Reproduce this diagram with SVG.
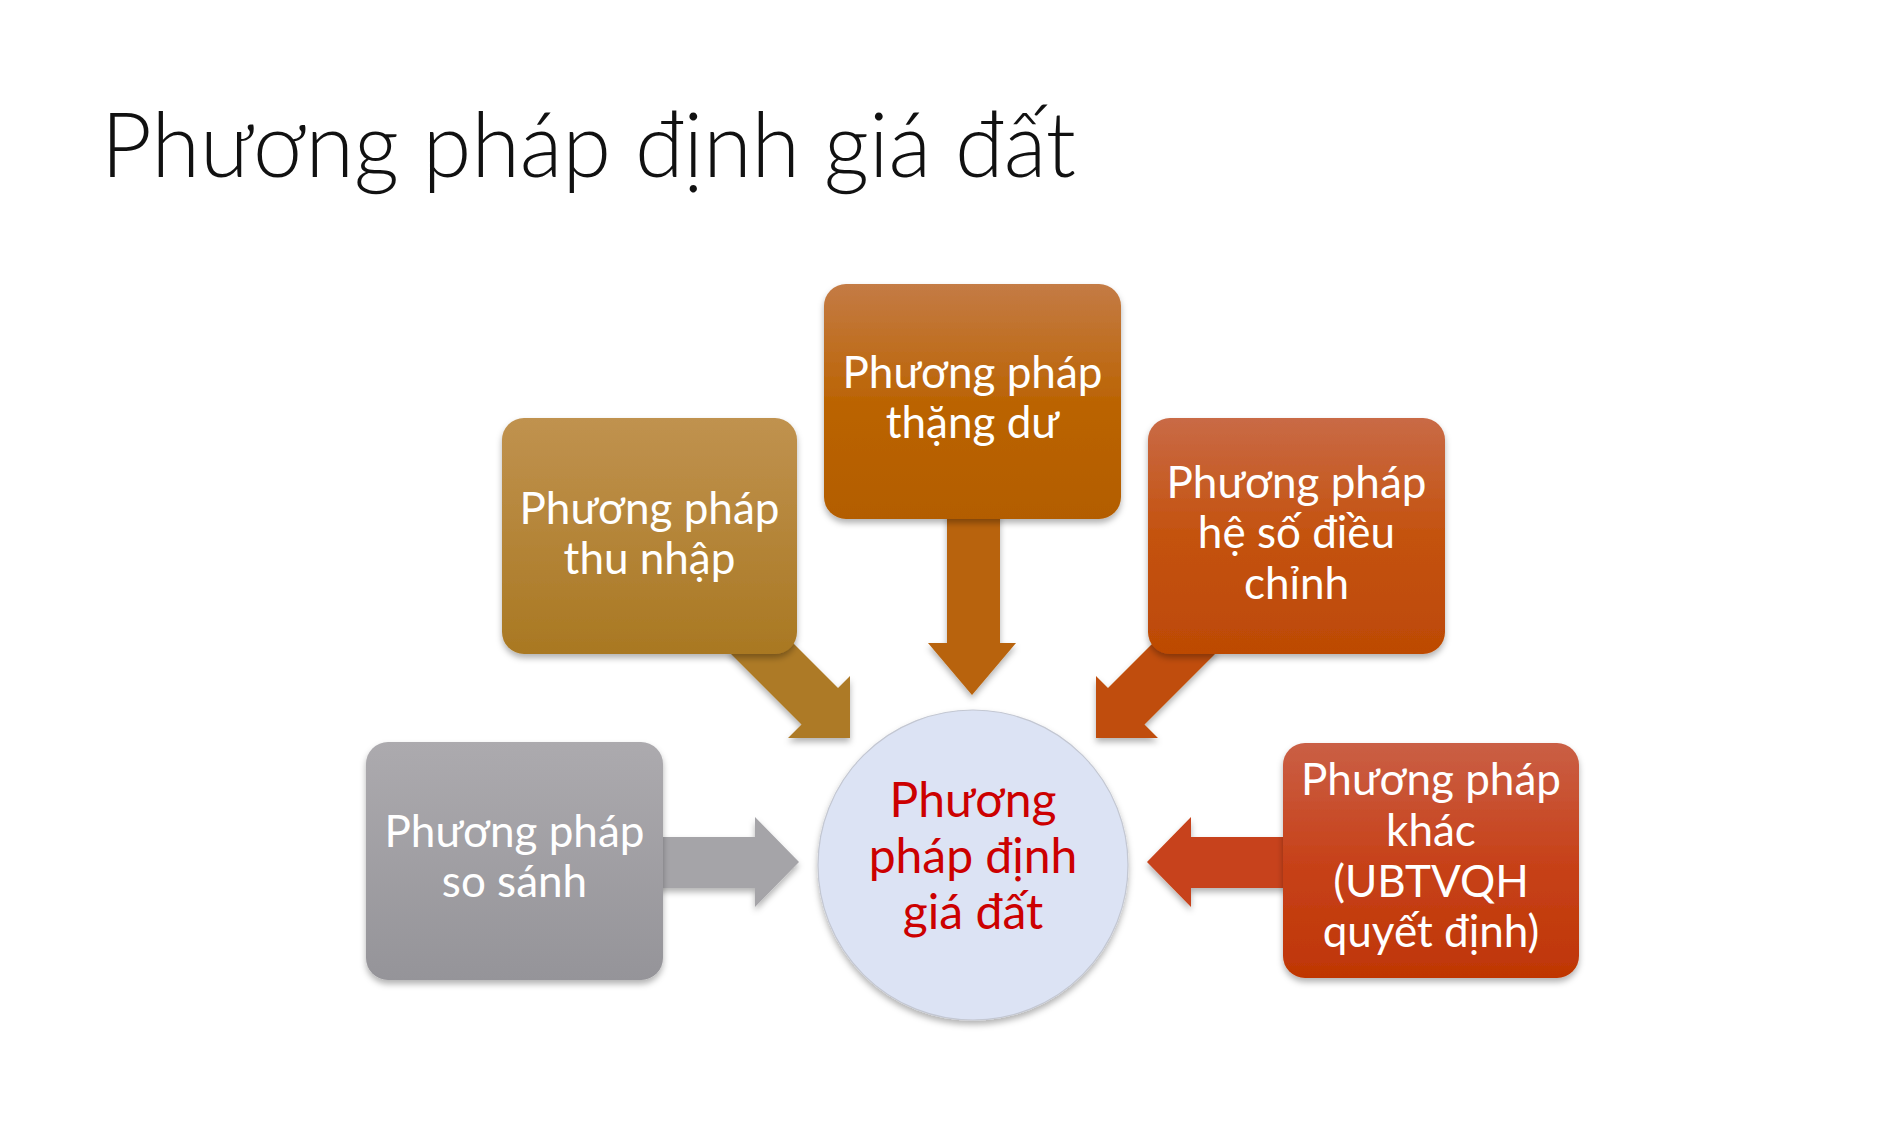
<svg xmlns="http://www.w3.org/2000/svg" width="1900" height="1124" viewBox="0 0 1900 1124">
<defs>
<style>
.t{font-family:Lato,"Open Sans","Noto Sans",sans-serif;fill:#fff;font-size:44px;text-anchor:middle}
.c{font-family:Lato,"Open Sans","Noto Sans",sans-serif;fill:#cc0000;font-size:48px;text-anchor:middle}
.ttl{font-family:Lato,"Open Sans","Noto Sans",sans-serif;font-weight:300;font-size:91px;fill:#111}
</style>
<filter id="sh" x="-10%" y="-10%" width="120%" height="125%">
<feDropShadow dx="0" dy="4" stdDeviation="3" flood-color="#000" flood-opacity="0.3"/>
</filter>
<linearGradient id="gTN" x1="0" y1="0" x2="0" y2="1"><stop offset="0" stop-color="#c0924f"/><stop offset="1" stop-color="#a97822"/></linearGradient>
<linearGradient id="gTD" x1="0" y1="0" x2="0" y2="1"><stop offset="0" stop-color="#c47b45"/><stop offset="0.5" stop-color="#bb6404"/><stop offset="1" stop-color="#b35d00"/></linearGradient>
<linearGradient id="gHS" x1="0" y1="0" x2="0" y2="1"><stop offset="0" stop-color="#c96a46"/><stop offset="0.5" stop-color="#c4520e"/><stop offset="1" stop-color="#bd4a05"/></linearGradient>
<linearGradient id="gK" x1="0" y1="0" x2="0" y2="1"><stop offset="0" stop-color="#ca5f45"/><stop offset="0.5" stop-color="#c7421a"/><stop offset="1" stop-color="#bf3604"/></linearGradient>
<linearGradient id="gSS" x1="0" y1="0" x2="0" y2="1"><stop offset="0" stop-color="#acaaae"/><stop offset="1" stop-color="#959499"/></linearGradient>
</defs>
<rect width="1900" height="1124" fill="#fff"/>
<text class="ttl" x="101" y="177" textLength="975" lengthAdjust="spacingAndGlyphs">Phương pháp định giá đất</text>
<g id="connectors" filter="url(#sh)">
<polygon fill="#b8630a" points="947,500 1000,500 1000,643 1016,643 972,695 928,643 947,643"/>
<polygon fill="#ad7a26" points="765,615 838,688 850,676 850,738 788,738 801.5,724.5 728.5,651.5"/>
<polygon fill="#c04e0c" points="1181,615 1108,688 1096,676 1096,738 1158,738 1144.5,724.5 1217.5,651.5"/>
<polygon fill="#a5a4a8" points="640,837 755,837 755,817 799,862 755,907 755,888 640,888"/>
<polygon fill="#c7431a" points="1306,837 1191,837 1191,817 1147,862 1191,907 1191,888 1306,888"/>
</g>
<g id="node-thang-du">
<rect x="824" y="284" width="297" height="235" rx="22" fill="url(#gTD)" filter="url(#sh)"/>
<text class="t" x="972.5" y="388">Phương pháp</text>
<text class="t" x="972.5" y="438">thặng dư</text>
</g>
<g id="node-thu-nhap">
<rect x="502" y="418" width="295" height="236" rx="22" fill="url(#gTN)" filter="url(#sh)"/>
<text class="t" x="649.5" y="524">Phương pháp</text>
<text class="t" x="649.5" y="574">thu nhập</text>
</g>
<g id="node-he-so">
<rect x="1148" y="418" width="297" height="236" rx="22" fill="url(#gHS)" filter="url(#sh)"/>
<text class="t" x="1296.5" y="498">Phương pháp</text>
<text class="t" x="1296.5" y="548">hệ số điều</text>
<text class="t" x="1296.5" y="599">chỉnh</text>
</g>
<g id="node-so-sanh">
<rect x="366" y="742" width="297" height="238" rx="22" fill="url(#gSS)" filter="url(#sh)"/>
<text class="t" x="514.5" y="847">Phương pháp</text>
<text class="t" x="514.5" y="897">so sánh</text>
</g>
<g id="node-khac">
<rect x="1283" y="743" width="296" height="235" rx="22" fill="url(#gK)" filter="url(#sh)"/>
<text class="t" x="1431" y="795">Phương pháp</text>
<text class="t" x="1431" y="846">khác</text>
<text class="t" x="1431" y="897">(UBTVQH</text>
<text class="t" x="1431" y="947">quyết định)</text>
</g>
<g id="node-center">
<circle cx="973" cy="865" r="155" fill="#dce3f4" stroke="#c3c7d2" stroke-width="1.2" filter="url(#sh)"/>
<text class="c" x="973" y="817">Phương</text>
<text class="c" x="973" y="873">pháp định</text>
<text class="c" x="973" y="929">giá đất</text>
</g>
</svg>
